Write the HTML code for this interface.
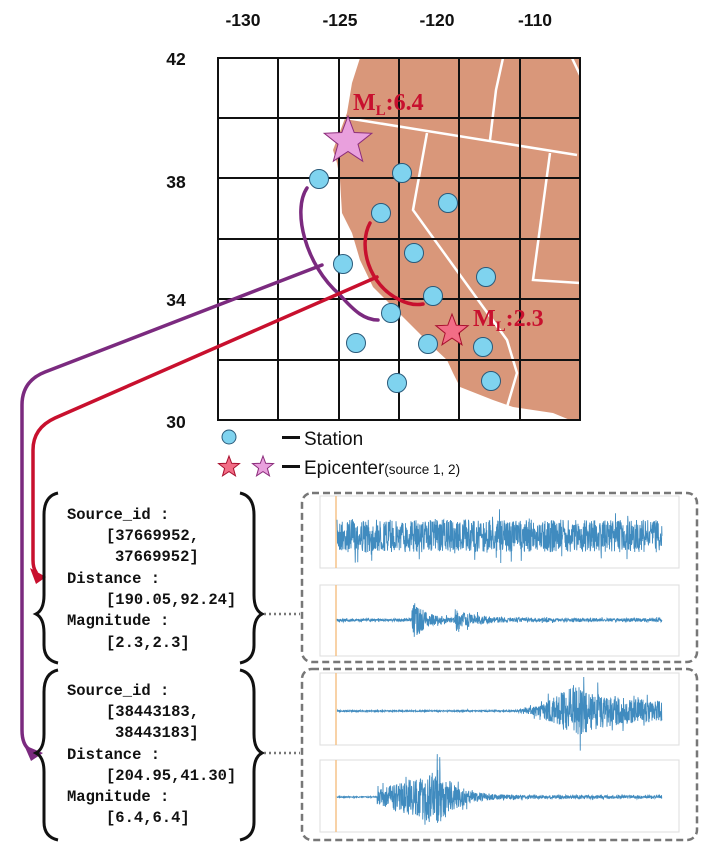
<!DOCTYPE html>
<html><head><meta charset="utf-8"><style>
html,body{margin:0;padding:0;background:#fff;}
svg{display:block;}
.t{font-family:"Liberation Sans",sans-serif;font-weight:bold;font-size:17.5px;fill:#111;}
.m{font-family:"Liberation Mono",monospace;font-size:15.5px;fill:#111;font-weight:bold;}
.ml{font-family:"Liberation Serif",serif;font-weight:bold;fill:#c8102e;}
</style></head><body>
<svg id="s" width="720" height="854" viewBox="0 0 720 854" xmlns="http://www.w3.org/2000/svg">
<g class="t" text-anchor="middle">
<text x="243" y="26">-130</text><text x="340" y="26">-125</text><text x="437" y="26">-120</text><text x="535" y="26">-110</text>
</g>
<g class="t" text-anchor="middle">
<text x="176" y="65">42</text><text x="176" y="188">38</text><text x="176" y="306">34</text><text x="176" y="428">30</text>
</g>
<path d="M360,58 L352,83 L347,113 L333,150 L337,163 L340,180 L342,213 L352,233 L360,260 L373,287 L393,307 L413,327 L433,347 L447,360 L453,373 L460,387 L493,400 L513,407 L553,413 L570,420 L580,420 L580,58 Z" fill="#d9977a"/>
<g stroke="#fff" stroke-width="2.5" fill="none">
<path d="M340,117 L577,155"/>
<path d="M427,133 L413,210 L507,340 L517,373 L507,407"/>
<path d="M550,153 L533,280 L580,283"/>
<path d="M503,58 L496,90 L490,140"/>
<path d="M572,58 L580,75"/>
</g>
<g stroke="#111" stroke-width="2" fill="none">
<rect x="218" y="58" width="362" height="362"/>
<path d="M278,58V420M339,58V420M399,58V420M459,58V420M520,58V420"/>
<path d="M218,118H580M218,178H580M218,239H580M218,299H580M218,360H580"/>
</g>
<g fill="none" stroke-width="3.5" stroke-linecap="round">
<path d="M307,188 C292,210 305,265 340,295 C355,312 365,320 378,320" stroke="#7b2a7f"/>
<path d="M322,265 L45,372 Q22,381 22,405 L22,730 Q22,745 30,750" stroke="#7b2a7f"/>
<path d="M370,223 C358,245 368,285 400,300 C410,305 418,305 423,304" stroke="#c8102e"/>
<path d="M377,277 L55,418 Q33,428 33,450 L33,560 Q33,568 36,572" stroke="#c8102e"/>
</g>
<path d="M30,568 L46,577 L36,584 Z" fill="#c8102e"/>
<path d="M24,745 L43,753 L31,761 Z" fill="#7b2a7f"/>
<g fill="#7fd3ef" stroke="#2a5a7a" stroke-width="1">
<circle cx="319" cy="179" r="9.5"/><circle cx="402" cy="173" r="9.5"/><circle cx="448" cy="203" r="9.5"/>
<circle cx="381" cy="213" r="9.5"/><circle cx="414" cy="253" r="9.5"/><circle cx="343" cy="264" r="9.5"/>
<circle cx="486" cy="277" r="9.5"/><circle cx="433" cy="296" r="9.5"/><circle cx="391" cy="313" r="9.5"/>
<circle cx="356" cy="343" r="9.5"/><circle cx="428" cy="344" r="9.5"/><circle cx="483" cy="347" r="9.5"/>
<circle cx="397" cy="383" r="9.5"/><circle cx="491" cy="381" r="9.5"/>
</g>
<polygon id="st1" fill="#e9a0dd" stroke="#8b2c7b" stroke-width="1"/>
<polygon id="st2" fill="#f26d86" stroke="#a8102e" stroke-width="1"/>
<text class="ml" x="353" y="110" font-size="24">M<tspan font-size="15" dy="5">L</tspan><tspan dy="-5">:6.4</tspan></text>
<text class="ml" x="473" y="326" font-size="24">M<tspan font-size="15" dy="5">L</tspan><tspan dy="-5">:2.3</tspan></text>
<circle cx="229" cy="437" r="7" fill="#7fd3ef" stroke="#2a5a7a"/>
<rect x="282" y="436" width="18" height="3" fill="#111"/>
<text x="304" y="445" font-family="Liberation Sans,sans-serif" font-size="19" fill="#111">Station</text>
<polygon id="st3" fill="#f26d86" stroke="#a8102e" stroke-width="1"/>
<polygon id="st4" fill="#e9a0dd" stroke="#8b2c7b" stroke-width="1"/>
<rect x="282" y="465" width="18" height="3" fill="#111"/>
<text x="304" y="474" font-family="Liberation Sans,sans-serif" font-size="19" fill="#111">Epicenter<tspan font-size="13.5">(source 1, 2)</tspan></text>
<g class="m">
<text x="67" y="519">Source_id :</text><text x="106" y="540">[37669952,</text><text x="115" y="561">37669952]</text>
<text x="67" y="583">Distance :</text><text x="106" y="604">[190.05,92.24]</text><text x="67" y="625">Magnitude :</text><text x="106" y="647">[2.3,2.3]</text>
<text x="67" y="695">Source_id :</text><text x="106" y="716">[38443183,</text><text x="115" y="737">38443183]</text>
<text x="67" y="759">Distance :</text><text x="106" y="780">[204.95,41.30]</text><text x="67" y="801">Magnitude :</text><text x="106" y="822">[6.4,6.4]</text>
</g>
<g fill="none" stroke="#111" stroke-width="3">
<path d="M58,493 Q44,496 44,515 L44,595 Q44,610 36,614 Q44,618 44,633 L44,645 Q44,660 58,663"/>
<path d="M240,493 Q254,496 254,515 L254,595 Q254,610 262,614 Q254,618 254,633 L254,645 Q254,660 240,663"/>
<path d="M58,670 Q44,673 44,692 L44,734 Q44,749 36,753 Q44,757 44,772 L44,822 Q44,837 58,840"/>
<path d="M240,670 Q254,673 254,692 L254,734 Q254,749 262,753 Q254,757 254,772 L254,822 Q254,837 240,840"/>
</g>
<g stroke="#777" stroke-width="2.5" stroke-dasharray="2,3">
<path d="M264,614H300M264,753H300"/>
</g>
<g fill="none" stroke="#777" stroke-width="2.5" stroke-dasharray="7,4">
<rect x="302" y="493" width="395" height="169" rx="10"/>
<rect x="302" y="669" width="395" height="171" rx="10"/>
</g>
<g fill="#fff" stroke="#ddd" stroke-width="1">
<rect x="320" y="496" width="359" height="72"/>
<rect x="320" y="585" width="359" height="71"/>
<rect x="320" y="673" width="359" height="72"/>
<rect x="320" y="760" width="359" height="72"/>
</g>
<g stroke="#f5c48a" stroke-width="1.5">
<path d="M336,496V568M336,585V656M336,673V745M336,760V832"/>
</g>
<g id="w" fill="none" stroke="#1f77b4" stroke-width="0.9" stroke-opacity="0.85"></g>
</svg>
<script>
function star(id,cx,cy,R){var r=R*0.42,p=[];for(var i=0;i<10;i++){var a=-Math.PI/2+i*Math.PI/5,rr=i%2?r:R;p.push((cx+rr*Math.cos(a)).toFixed(1)+','+(cy+rr*Math.sin(a)).toFixed(1));}document.getElementById(id).setAttribute('points',p.join(' '));}
star('st1',348,141,25);star('st2',452,331,17);star('st3',229,467,11);star('st4',263,467,11);
var seed=7;function rnd(){seed=(seed*16807)%2147483647;return seed/2147483647*2-1;}
var g=document.getElementById('w'),ns='http://www.w3.org/2000/svg';
function wave(cy,env){var d='';for(var x=337;x<=662;x+=0.25){var a=env(x);var v=rnd()*a*(rnd()>0.9?1.5:0.9);d+=(d?'L':'M')+x.toFixed(2)+','+(cy+v).toFixed(1);}var p=document.createElementNS(ns,'path');p.setAttribute('d',d);g.appendChild(p);}
wave(536,function(x){return 18;});
wave(620,function(x){if(x<412)return 1.5;var a=2+24*Math.exp(-(x-412)/12);if(x>455)a+=12*Math.exp(-(x-455)/18);return a;});
wave(711,function(x){if(x<515)return 0.8;if(x<540)return 0.8+(x-515)/25*6;if(x<575)return 6+(x-540)/35*24;return 11+19*Math.exp(-(x-575)/30);});
wave(797,function(x){if(x<377)return 0.6;if(x<440)return 8+(x-377)/63*24;return 2+28*Math.exp(-(x-440)/18);});
</script>
</body></html>
